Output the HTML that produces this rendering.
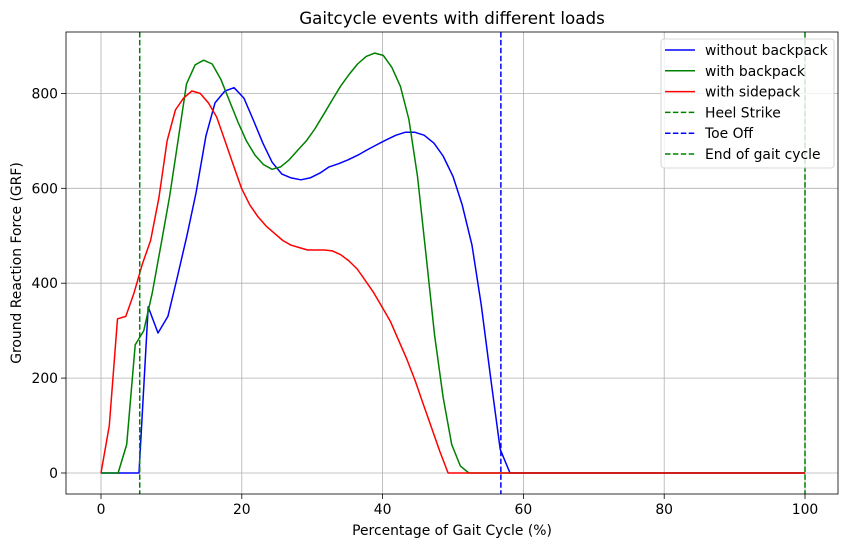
<!DOCTYPE html>
<html><head><meta charset="utf-8"><style>
body{margin:0;background:#fff;}
svg text{font-family:"DejaVu Sans","Liberation Sans",sans-serif;fill:#000;}
</style></head><body>
<svg id="chart" width="850" height="547" xmlns="http://www.w3.org/2000/svg">
<rect width="850" height="547" fill="#fff"/>
<g id="grid"></g><g id="series"></g><g id="axes"></g><g id="legend"></g>
</svg>
<script>
const blueX=[0,5.4,6.7,8.1,9.5,10.8,12.2,13.5,14.9,16.2,17.6,18.9,20.3,21.6,23,24.3,25.7,27,28.4,29.7,31.1,32.4,33.8,35.1,36.5,37.8,39.2,40.5,41.9,43.2,44.6,45.9,47.3,48.6,50,51.3,52.7,54,55.4,56.7,58.1,100];
const blueY=[0,0,350,295,330,410,500,590,710,780,805,812,790,745,695,655,630,622,618,622,632,645,652,660,670,681,692,702,712,718,718,712,695,668,625,565,480,355,195,50,0,0];
const greenY=[0,0,0,60,270,300,380,480,580,700,820,860,870,862,830,785,740,700,670,650,640,645,660,680,700,725,755,785,815,840,862,878,885,880,855,815,745,625,460,290,160,60,15,0];
const redY=[0,100,325,330,380,440,490,580,700,765,790,805,800,780,750,700,650,600,565,540,520,505,490,480,475,470,470,470,468,460,447,430,405,380,350,320,280,240,195,145,95,45,0];
const greenStep=1.215, redStep=1.174;
const vlines=[5.5,56.8,100];
const xTicks=[0,20,40,60,80,100];
const yTicks=[0,200,400,600,800];
const L=66,R=838,T=32,B=494;
const xs=v=>101+(v-0)*7.04;
const ys=v=>473-v*0.4745;
const NS="http://www.w3.org/2000/svg";
function mk(tag,attrs,parent){const e=document.createElementNS(NS,tag);for(const k in attrs)e.setAttribute(k,attrs[k]);parent.appendChild(e);return e;}
const grid=document.getElementById('grid'),ser=document.getElementById('series'),ax=document.getElementById('axes'),lg=document.getElementById('legend');
xTicks.forEach(t=>{const l=mk('line',{x1:xs(t),x2:xs(t),y1:T,y2:B,stroke:'#b0b0b0','stroke-width':0.8},grid);

const tk=mk('line',{x1:xs(t),x2:xs(t),y1:B,y2:B+5,stroke:'#000','stroke-width':0.8},ax);

const tx=mk('text',{x:xs(t),y:B+20,'text-anchor':'middle','font-size':13.9},ax);tx.textContent=t;
});
yTicks.forEach(t=>{const l=mk('line',{x1:L,x2:R,y1:ys(t),y2:ys(t),stroke:'#b0b0b0','stroke-width':0.8},grid);

const tk=mk('line',{x1:L-5,x2:L,y1:ys(t),y2:ys(t),stroke:'#000','stroke-width':0.8},ax);

const tx=mk('text',{x:L-8,y:ys(t)+5,'text-anchor':'end','font-size':13.9},ax);tx.textContent=t;
});
function poly(xa,ya,color,name){const pts=xa.map((x,i)=>xs(x).toFixed(1)+','+ys(ya[i]).toFixed(1)).join(' ');
const p=mk('polyline',{points:pts,fill:'none',stroke:color,'stroke-width':1.5,'stroke-linejoin':'round'},ser);
}
poly(blueX,blueY,'#0000ff','without-backpack-line');
const gX=greenY.map((_,i)=>i*greenStep);gX.push(100);const gY=greenY.concat([0]);
poly(gX,gY,'#008000','with-backpack-line');
const rX=redY.map((_,i)=>i*redStep);rX.push(100);const rY=redY.concat([0]);
poly(rX,rY,'#ff0000','with-sidepack-line');
const vcol=['#008000','#0000ff','#008000'],vname=['heel-strike-line','toe-off-line','end-of-gait-line'];
vlines.forEach((v,i)=>{const l=mk('line',{x1:xs(v),x2:xs(v),y1:T,y2:B,stroke:vcol[i],'stroke-width':1.5,'stroke-dasharray':'5.5,2.4'},ser);
});
const fr=mk('rect',{x:L,y:T,width:R-L,height:B-T,fill:'none',stroke:'#000','stroke-width':0.8},ax);

const ti=mk('text',{x:(L+R)/2,y:24,'text-anchor':'middle','font-size':16.7},ax);ti.textContent='Gaitcycle events with different loads';

const xt=mk('text',{x:(L+R)/2,y:535,'text-anchor':'middle','font-size':13.9},ax);xt.textContent='Percentage of Gait Cycle (%)';

const yt=mk('text',{x:21,y:(T+B)/2,'text-anchor':'middle','font-size':13.9,transform:'rotate(-90 21 '+(T+B)/2+')'},ax);yt.textContent='Ground Reaction Force (GRF)';

const lb=mk('rect',{x:661,y:39,width:173,height:129,rx:3,fill:'#fff','fill-opacity':0.8,stroke:'#cccccc','stroke-width':0.8},lg);

const ent=[['without backpack','#0000ff',null],['with backpack','#008000',null],['with sidepack','#ff0000',null],['Heel Strike','#008000','5.5,2.4'],['Toe Off','#0000ff','5.5,2.4'],['End of gait cycle','#008000','5.5,2.4']];
ent.forEach((e,i)=>{const y=50+i*20.8;const a={x1:665,x2:695,y1:y,y2:y,stroke:e[1],'stroke-width':1.5};if(e[2])a['stroke-dasharray']=e[2];
const l=mk('line',a,lg);
const t=mk('text',{x:705,y:y+5,'font-size':13.9},lg);t.textContent=e[0];
});
</script>
</body></html>
